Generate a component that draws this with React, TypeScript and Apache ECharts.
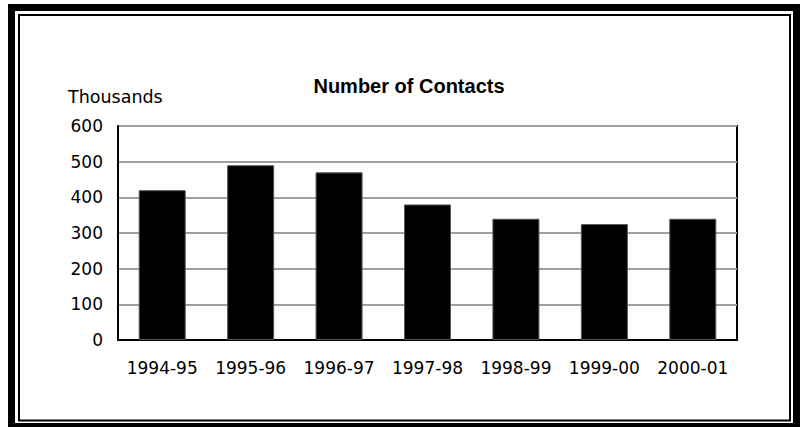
import React, { useEffect, useRef } from "react";
import * as echarts from "echarts";

// Annual contact counts (thousands) by financial year
const categories = ["1994-95", "1995-96", "1996-97", "1997-98", "1998-99", "1999-00", "2000-01"];
const contacts = [420, 490, 470, 380, 340, 325, 340];
const yTicks = { min: 0, max: 600, interval: 100 };

const FONT = "'DejaVu Sans', sans-serif";
const TITLE_FONT = "'Liberation Sans', Arial, sans-serif";

export default function App() {
  const ref = useRef<HTMLDivElement>(null);

  useEffect(() => {
    document.body.style.margin = "0";
    const chart = echarts.init(ref.current!, undefined, { renderer: "svg" });
    chart.setOption({
      animation: false,
      backgroundColor: "#ffffff",
      textStyle: { fontFamily: FONT },
      title: {
        text: "Number of Contacts",
        left: 404,
        top: 71,
        textAlign: "center",
        textStyle: { fontSize: 20, fontWeight: "bold", color: "#000", fontFamily: TITLE_FONT },
      },
      graphic: [
        {
          type: "rect",
          shape: { x: 11.5, y: 7.5, width: 785, height: 419 },
          style: { fill: "none", stroke: "#000", lineWidth: 7 },
          silent: true,
        },
        {
          type: "rect",
          shape: { x: 19, y: 15, width: 771, height: 405.5 },
          style: { fill: "none", stroke: "#000", lineWidth: 2 },
          silent: true,
        },
        {
          type: "text",
          left: 68,
          top: 88,
          style: { text: "Thousands", fontSize: 17.5, fill: "#000", fontFamily: FONT },
          silent: true,
        },
      ],
      grid: {
        left: 118,
        top: 126,
        right: 69,
        bottom: 87,
        show: true,
        borderColor: "#000",
        borderWidth: 2,
        backgroundColor: "transparent",
      },
      xAxis: {
        type: "category",
        data: categories,
        axisLine: { lineStyle: { color: "#000", width: 2 } },
        axisTick: { show: false },
        axisLabel: {
          color: "#000",
          fontSize: 17,
          margin: 19,
          fontFamily: FONT,
          interval: 0,
          hideOverlap: false,
        },
      },
      yAxis: {
        type: "value",
        min: yTicks.min,
        max: yTicks.max,
        interval: yTicks.interval,
        axisLine: { show: true, lineStyle: { color: "#000", width: 2 } },
        axisTick: { show: false },
        axisLabel: { color: "#000", fontSize: 17, margin: 15, fontFamily: FONT },
        splitLine: { lineStyle: { color: "#a0a0a0", width: 2 } },
      },
      series: [
        {
          type: "bar",
          data: contacts,
          barWidth: 47,
          itemStyle: { color: "#000", borderColor: "#555", borderWidth: 1 },
        },
      ],
    });
    return () => chart.dispose();
  }, []);

  return <div ref={ref} style={{ width: 806, height: 427 }} />;
}
